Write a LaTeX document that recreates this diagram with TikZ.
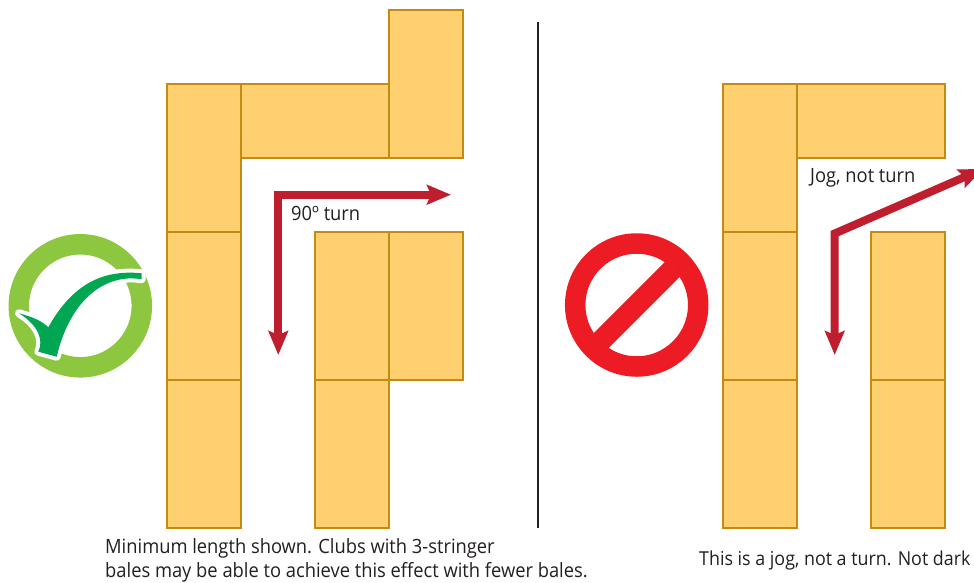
\documentclass[tikz,border=0pt]{standalone}
\usepackage{fontspec}
\setmainfont[FakeStretch=0.93]{Open Sans}
\usetikzlibrary{arrows.meta}
\definecolor{balefill}{HTML}{FFD06F}
\definecolor{baleline}{HTML}{C48A12}
\definecolor{arrowred}{HTML}{BE1E2D}
\definecolor{ringgreen}{HTML}{8DC63F}
\definecolor{tickgreen}{HTML}{00A651}
\definecolor{stopred}{HTML}{ED1C24}
\definecolor{textdark}{HTML}{231F20}
\tikzset{
  bale/.style={draw=baleline,fill=balefill,line width=2.2pt,inner sep=0pt,outer sep=0pt,anchor=north west},
  short/.style={bale,minimum width=74pt,minimum height=148pt},
  longh/.style={bale,minimum width=148pt,minimum height=74pt},
  route/.style={draw=arrowred,line width=8pt,miter limit=10,
    {Stealth[length=24pt,width=19.5pt,inset=4pt]}-{Stealth[length=24pt,width=19.5pt,inset=4pt]}},
  label/.style={anchor=base west,inner sep=0pt,text=textdark,font=\fontsize{19.7}{23}\selectfont},
  tick/.style={fill=tickgreen,preaction={draw=white,line width=8pt,line join=round}},
}
\begin{document}
\begin{tikzpicture}[x=1pt,y=-1pt]
\useasboundingbox (0,0) rectangle (974,582);
\clip (0,0) rectangle (974,582);
% left layout
\node[short] (l1) at (167,84) {};
\node[short] (l2) at (167,232) {};
\node[short] (l3) at (167,380) {};
\node[longh] (l4) at (241,84) {};
\node[short] (l5) at (389,10) {};
\node[short] (l6) at (315,232) {};
\node[short] (l7) at (389,232) {};
\node[short] (l8) at (315,380) {};
% right layout
\node[short] (r1) at (723,84) {};
\node[short] (r2) at (723,232) {};
\node[short] (r3) at (723,380) {};
\node[longh] (r4) at (797,84) {};
\node[short] (r5) at (871,232) {};
\node[short] (r6) at (871,380) {};
% divider
\coordinate (d1) at (537.5,22);
\coordinate (d2) at (537.5,528);
\draw[draw=textdark,line width=2pt] (d1) -- (d2);
% arrows
\coordinate (a1) at (278.3,355);
\coordinate (a2) at (278.3,194.7);
\coordinate (a3) at (451,194.7);
\draw[route] (a1) -- (a2) -- (a3);
\coordinate (b1) at (834.7,355);
\coordinate (b2) at (834.7,233.5);
\coordinate (b3) at (983,169);
\draw[route] (b1) -- (b2) -- (b3);
% ok sign
\node[circle,draw=ringgreen,line width=20.5pt,minimum size=123pt,inner sep=0pt] (ok) at (80.3,305.8) {};
\path[tick]
  (19,313.3) .. controls (33,317) and (42,321) .. (48.3,327.3)
  .. controls (66,296) and (92,268) .. (141.7,273.3)
  -- (141.7,279.3)
  .. controls (105,273) and (70,300) .. (56.7,356.7)
  -- (38.3,351.7)
  .. controls (44,340) and (38,325) .. (19,313.3) -- cycle;
% stop sign
\node[circle,draw=stopred,line width=20.5pt,minimum size=123pt,inner sep=0pt] (no) at (636.7,305) {};
\coordinate (s1) at (600,341.7);
\coordinate (s2) at (673,268.7);
\draw[draw=stopred,line width=21pt] (s1) -- (s2);
% labels
\node[label] (t1) at (291,220) {90º turn};
\node[label] (t2) at (810,182) {Jog, not turn};
\node[label] (t3) at (105,553) {Minimum length shown. Clubs with 3-stringer};
\node[label] (t4) at (105,577.3) {bales may be able to achieve this effect with fewer bales.};
\node[label,font=\fontsize{19.2}{23}\selectfont] (t5) at (699,565.5) {This is a jog, not a turn. Not dark};
\end{tikzpicture}
\end{document}
